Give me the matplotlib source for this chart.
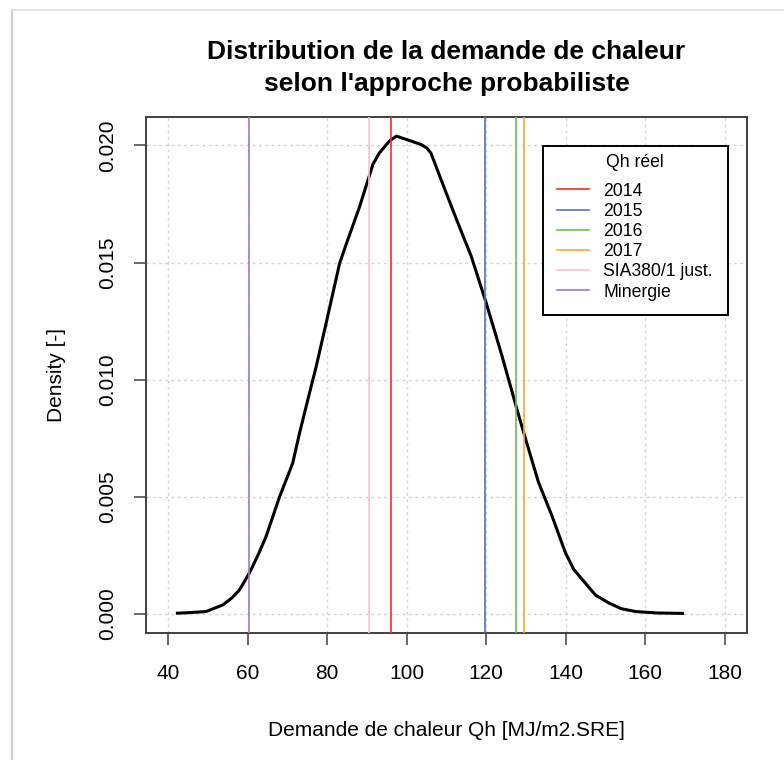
import numpy as np
import matplotlib
matplotlib.use('Agg')
import matplotlib.pyplot as plt
from matplotlib.lines import Line2D

plt.rcParams['font.family'] = ['Liberation Sans', 'DejaVu Sans']

# Dichtekurve der Heizwaermebedarf-Simulation
qh = [42.3, 45.0, 49.5, 53.7, 56.0, 57.9, 60.4, 62.5, 64.6, 68.0, 71.3, 73.0, 75.5, 77.2,
      79.7, 81.4, 83.1, 84.8, 88.1, 90.2, 91.5, 93.1, 95.7, 97.4, 100.0, 103.5, 105.0,
      106.1, 109.5, 112.8, 116.2, 120.0, 123.8, 127.6, 129.7, 133.1, 136.5, 139.9, 142.0,
      144.9, 147.5, 150.9, 154.0, 157.6, 163.0, 169.4]
dens = [0.00003, 0.00005, 0.00010, 0.00038, 0.00068, 0.00102, 0.00174, 0.00248, 0.00330,
        0.00500, 0.00643, 0.00770, 0.00941, 0.01055, 0.01240, 0.01368, 0.01496, 0.01580,
        0.01737, 0.01850, 0.01920, 0.01968, 0.02020, 0.02040, 0.02025, 0.02005, 0.01990,
        0.01967, 0.01816, 0.01672, 0.01528, 0.01327, 0.01111, 0.00881, 0.00758, 0.00564,
        0.00420, 0.00262, 0.00190, 0.00132, 0.00080, 0.00046, 0.00022, 0.00010, 0.00004,
        0.00002]

# gemessene / berechnete Werte
labels = ['2014', '2015', '2016', '2017', 'SIA380/1 just.', 'Minergie']
werte = [96.1, 119.8, 127.6, 129.6, 90.5, 60.3]
farben = ['#F52A2A', '#5870B8', '#6CBE4C', '#FFA52A', '#FFC0CB', '#9E7BBE']

xticks = [40, 60, 80, 100, 120, 140, 160, 180]
yticks = [0.000, 0.005, 0.010, 0.015, 0.020]

W, H = 784, 760
fig = plt.figure(figsize=(W / 100, H / 100), dpi=100)
ax = fig.add_axes([146 / W, 1 - 633 / H, (747 - 146) / W, (633 - 117) / H])

# R-artige Achsen (4% Rand)
x0, x1 = 40, 180
ax.set_xlim(x0 - 0.04 * (x1 - x0), x1 + 0.04 * (x1 - x0))
y1 = max(dens)
ax.set_ylim(-0.04 * y1, y1 * 1.04)

for xv in xticks:
    ax.axvline(xv, color='#D3D3D3', lw=1, dashes=(2, 2.5), zorder=1)
for yv in yticks:
    ax.axhline(yv, color='#D3D3D3', lw=1, dashes=(2, 2.5), zorder=1)

ax.plot(qh, dens, color='black', lw=2.2, zorder=3)

for w, f, l in zip(werte, farben, labels):
    ax.axvline(w, color=f, lw=1.2, zorder=4, label=l)

ax.set_xticks(xticks)
ax.set_yticks(yticks)
ax.set_yticklabels(['%.3f' % v for v in yticks], rotation=90, va='center')
ax.tick_params(axis='both', labelsize=15, length=8.6, width=1.1, color='#404040')
ax.tick_params(axis='x', pad=13.5)
ax.tick_params(axis='y', pad=12)
for s in ax.spines.values():
    s.set_color('#404040')
    s.set_linewidth(1.4)

leg = ax.legend(title='Qh réel', loc='upper right', bbox_to_anchor=(0.968, 0.944),
                fontsize=12.7, title_fontsize=12.7, handlelength=1.8, handletextpad=0.8,
                labelspacing=0.18, borderpad=0.45, fancybox=False, framealpha=1,
                borderaxespad=0)
leg.get_frame().set_edgecolor('black')
leg.get_frame().set_linewidth(1.4)
# etwas mehr Rand um die Eintraege (wie R legend)
leg._legend_handle_box.pad = 5
leg._legend_box.sep = 3.5

fig.text(446.5 / W, 1 - 68 / H, 'Distribution de la demande de chaleur\nselon l\'approche probabiliste',
         ha='center', va='center', fontsize=19, fontweight='bold', linespacing=1.4)
fig.text(446.5 / W, 1 - 730 / H, 'Demande de chaleur Qh [MJ/m2.SRE]', ha='center', va='center', fontsize=15)
fig.text(57 / W, 1 - 375 / H, 'Density [-]', ha='center', va='center', rotation=90, fontsize=15)

# grauer Rahmen des Screenshots
fig.add_artist(Line2D([11.5 / W, 11.5 / W], [0, 1 - 10 / H], color='#CFCFCF', lw=1.6))
fig.add_artist(Line2D([11.5 / W, 1], [1 - 10 / H, 1 - 10 / H], color='#DDDDDD', lw=1.2))

plt.savefig('out.png', dpi=100)
